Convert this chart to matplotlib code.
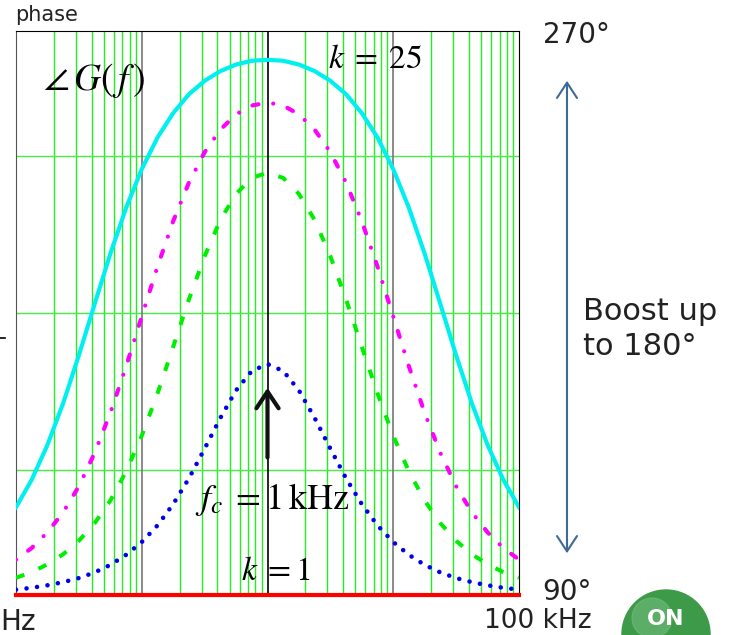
import matplotlib
matplotlib.use("Agg")
import matplotlib.pyplot as plt
from matplotlib.patches import Circle

# frequency points (Hz), 1/8 decade from 10 Hz to 100 kHz
freq = [10, 13.34, 17.78, 23.71, 31.62, 42.17, 56.23, 74.99,
        100, 133.4, 177.8, 237.1, 316.2, 421.7, 562.3, 749.9,
        1000, 1334, 1778, 2371, 3162, 4217, 5623, 7499,
        10000, 13340, 17780, 23710, 31620, 42170, 56230, 74990, 100000]

# phase of G(f) in degrees
phase_blue = [91.7, 92.3, 93.1, 94.1, 95.4, 97.2, 99.6, 102.8,
              106.9, 112.2, 119.0, 127.2, 136.7, 146.5, 155.3, 161.5,
              163.7, 161.5, 155.3, 146.5, 136.7, 127.2, 119.0, 112.2,
              106.9, 102.8, 99.6, 97.2, 95.4, 94.1, 93.1, 92.3, 91.7]
phase_green = [95.5, 97.3, 99.8, 103.0, 107.3, 112.9, 120.1, 129.4,
               140.8, 154.3, 169.2, 184.3, 198.1, 209.7, 218.0, 223.1,
               224.8, 223.1, 218.0, 209.7, 198.1, 184.3, 169.2, 154.3,
               140.8, 129.4, 120.1, 112.9, 107.3, 103.0, 99.8, 97.3, 95.5]
phase_magenta = [101.3, 105.0, 110.0, 116.4, 124.7, 135.3, 148.1, 162.9,
                 178.9, 194.8, 209.3, 221.6, 231.3, 238.5, 243.4, 246.2,
                 247.2, 246.2, 243.4, 238.5, 231.3, 221.6, 209.3, 194.8,
                 178.9, 162.9, 148.1, 135.3, 124.7, 116.4, 110.0, 105.0, 101.3]
phase_cyan = [118.0, 126.8, 137.9, 151.2, 166.5, 182.8, 198.9, 213.5,
              225.9, 236.0, 243.8, 249.8, 254.1, 257.2, 259.3, 260.5,
              260.8, 260.5, 259.3, 257.2, 254.1, 249.8, 243.8, 236.0,
              225.9, 213.5, 198.9, 182.8, 166.5, 151.2, 137.9, 126.8, 118.0]
phase_k1 = [90.0] * len(freq)

decades = [100, 1000, 10000]
hgrid = [130, 180, 230]

W, H = 731, 635


def fpos(x, y):
    # pixel position (from top left) -> figure fraction
    return x / W, 1 - y / H


plt.rcParams['mathtext.fontset'] = 'stix'

fig = plt.figure(figsize=(W / 100, H / 100), dpi=100)
ax = fig.add_axes([16 / W, 40 / H, 503 / W, 564 / H])
ax.set_xscale('log')
ax.set_xlim(10, 100000)
ax.set_ylim(90, 270)
ax.set_xticks([])
ax.set_yticks([])
ax.minorticks_off()

# grid
for n in [10, 100, 1000, 10000]:
    for m in range(2, 10):
        ax.axvline(n * m, color='#22ee22', lw=1.0, zorder=1)
for y in hgrid:
    ax.axhline(y, color='#44ee44', lw=1.0, zorder=1)
for d in decades:
    ax.axvline(d, color='black' if d == 1000 else '#777777', lw=1.2, zorder=1.5)

for side in ['top', 'right']:
    ax.spines[side].set_color('black')
ax.spines['left'].set_color('#555555')
ax.spines['bottom'].set_visible(False)

# curves
ax.plot(freq, phase_cyan, color='#00f0f0', lw=3.0, zorder=3)
ax.plot(freq, phase_magenta, color='#ff00ff', lw=3.0, zorder=3,
        linestyle=(0, (0.01, 3.6, 1.5, 3.6)), dash_capstyle='round')
ax.plot(freq, phase_green, color='#00ee00', lw=2.9, zorder=3,
        linestyle=(0, (2.2, 3.8)))
ax.plot(freq, phase_blue, color='#0000ee', lw=3.3, zorder=3,
        linestyle=(0, (0.01, 2.3)), dash_capstyle='round')
ax.plot(freq, phase_k1, color='#ff0000', lw=3.0, zorder=4, clip_on=False)

# fc arrow
ax.annotate('', xy=(1000, 157), xytext=(1000, 133),
            arrowprops=dict(arrowstyle='->, head_length=0.6, head_width=0.4',
                            lw=3, color='#111111', mutation_scale=20))

# math labels
fig.text(*fpos(43, 80), r'$\angle\,G\left(\,f\,\right)$', fontsize=27, ha='left', va='center')
fig.text(*fpos(375, 58), r'$k\;=\;25$', fontsize=24, ha='center', va='center')
fig.text(*fpos(272, 500), r'$f_c\;=1\,\mathrm{kHz}$', fontsize=26, ha='center', va='center')
fig.text(*fpos(276, 571), r'$k\;=1$', fontsize=24, ha='center', va='center')

# plain labels
txt = dict(color='#222222', family='DejaVu Sans')
fig.text(*fpos(15, 15), 'phase', fontsize=15, ha='left', va='center', **txt)
fig.text(*fpos(543, 35), '270°', fontsize=20, ha='left', va='center', **txt)
fig.text(*fpos(542, 592), '90°', fontsize=20, ha='left', va='center', **txt)
fig.text(*fpos(592, 621), '100 kHz', fontsize=19, ha='right', va='center', **txt)
fig.text(*fpos(0, 622), 'Hz', fontsize=20, ha='left', va='center', **txt)
fig.text(*fpos(583, 329), 'Boost up\nto 180°', fontsize=22, ha='left', va='center',
         linespacing=1.3, **txt)

# left stray tick
fig.add_artist(plt.Line2D([0, 5 / W], [1 - 338 / H] * 2, color='black', lw=1.2))

# boost double arrow
ax.annotate('', xy=(567, H - 78), xytext=(567, H - 556), xycoords='figure pixels',
            textcoords='figure pixels', annotation_clip=False,
            arrowprops=dict(arrowstyle='<->, head_length=0.55, head_width=0.36',
                            lw=1.5, color='#3d6a96', mutation_scale=20))

# logo
fig.add_artist(Circle((666 / 100, (H - 634) / 100), 0.44, transform=fig.dpi_scale_trans,
                      color='#3c9a48'))
fig.add_artist(Circle((652 / 100, (H - 618) / 100), 0.2, transform=fig.dpi_scale_trans,
                      color='#7cc086', alpha=0.5))
fig.text(*fpos(666, 609), 'ON', fontsize=16, fontweight='bold', color='white',
         ha='center', va='top', family='DejaVu Sans')

fig.savefig('out.png', dpi=100)
